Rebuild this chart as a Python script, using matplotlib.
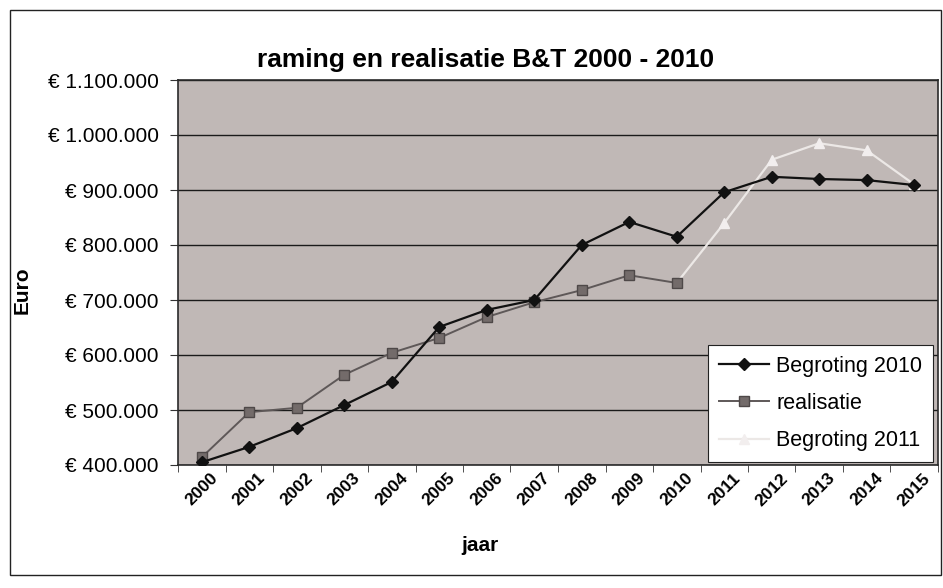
import matplotlib
matplotlib.use('Agg')
import matplotlib.pyplot as plt
from matplotlib.patches import Rectangle
from matplotlib.ticker import FixedLocator, FuncFormatter
import numpy as np

# ---- data ----
years = [str(y) for y in range(2000, 2016)]
begroting_2010 = [405000, 433000, 467000, 509000, 551000, 651000, 682000, 700000,
                  800000, 842000, 815000, 896000, 924000, 920000, 918000, 909000]
realisatie = [414000, 496000, 504000, 564000, 604000, 631000, 669000, 696000,
              718000, 745000, 731000, np.nan, np.nan, np.nan, np.nan, np.nan]
begroting_2011 = [np.nan] * 10 + [731000, 840000, 955000, 985000, 972000, 910000]
y_ticks = [400000, 500000, 600000, 700000, 800000, 900000, 1000000, 1100000]

title = "raming en realisatie B&T 2000 - 2010"
plt.rcParams['font.family'] = ['Liberation Sans', 'DejaVu Sans']

fig = plt.figure(figsize=(9.43, 5.88), dpi=100)
ax = fig.add_axes([178 / 943, 1 - 465 / 588, 760 / 943, 385 / 588])
ax.set_facecolor('#c0b8b6')

x = np.arange(len(years))
ax.plot(x, begroting_2011, color='#ece8e6', lw=1.6, marker='^', ms=7,
        mfc='#f2eeee', mec='#f2eeee', label='Begroting 2011', zorder=3)
ax.plot(x, realisatie, color='#5e5858', lw=1.4, marker='s', ms=7,
        mfc='#736b6a', mec='#4e4848', label='realisatie', zorder=4)
ax.plot(x, begroting_2010, color='#111111', lw=1.6, marker='D', ms=6.5,
        mfc='#111111', mec='#111111', label='Begroting 2010', zorder=5)

ax.set_xlim(-0.5, len(years) - 0.5)
ax.set_ylim(400000, 1100000)
ax.yaxis.set_major_locator(FixedLocator(y_ticks))
ax.yaxis.set_major_formatter(FuncFormatter(lambda v, p: "€ " + f"{v:,.0f}".replace(",", ".")))
ax.grid(axis='y', color='#1a1a1a', lw=1.0)
ax.set_axisbelow(True)

ax.set_xticks(x)
ax.set_xticklabels(years, rotation=45, ha='center', va='top',
                   fontsize=12.5, fontweight='bold')
ax.set_xticks(np.arange(-0.5, len(years)), minor=True)
ax.tick_params(axis='x', which='major', length=0, pad=4)
ax.tick_params(axis='x', which='minor', length=5, direction='out', color='#333333')
ax.tick_params(axis='y', length=6, direction='out', labelsize=15, pad=8, color='#333333')

for s in ax.spines.values():
    s.set_color('#2a2a2a')
    s.set_linewidth(1.2)

# legend in order of reference
h, l = ax.get_legend_handles_labels()
order = [2, 1, 0]
leg = ax.legend([h[i] for i in order], [l[i] for i in order],
                loc='lower right', bbox_to_anchor=(0.9935, 0.008),
                borderaxespad=0, fontsize=15.5, frameon=True, fancybox=False,
                framealpha=1, facecolor='white', edgecolor='#222222',
                handlelength=2.3, handletextpad=0.35, labelspacing=0.75,
                borderpad=0.5)
leg.get_frame().set_linewidth(0.8)

fig.text(0.515, 0.898, title, ha='center', va='center', fontsize=19,
         fontweight='bold')
fig.text(0.0233, 0.507, 'Euro', rotation=90, ha='center', va='center',
         fontsize=15, fontweight='bold')
fig.text(0.509, 0.073, 'jaar', ha='center', va='center', fontsize=15,
         fontweight='bold')

fig.add_artist(Rectangle((0.0106, 0.022), 0.987, 0.961, transform=fig.transFigure,
                         fill=False, lw=1.0, ec='#222222'))

fig.savefig('out.png', dpi=100)
